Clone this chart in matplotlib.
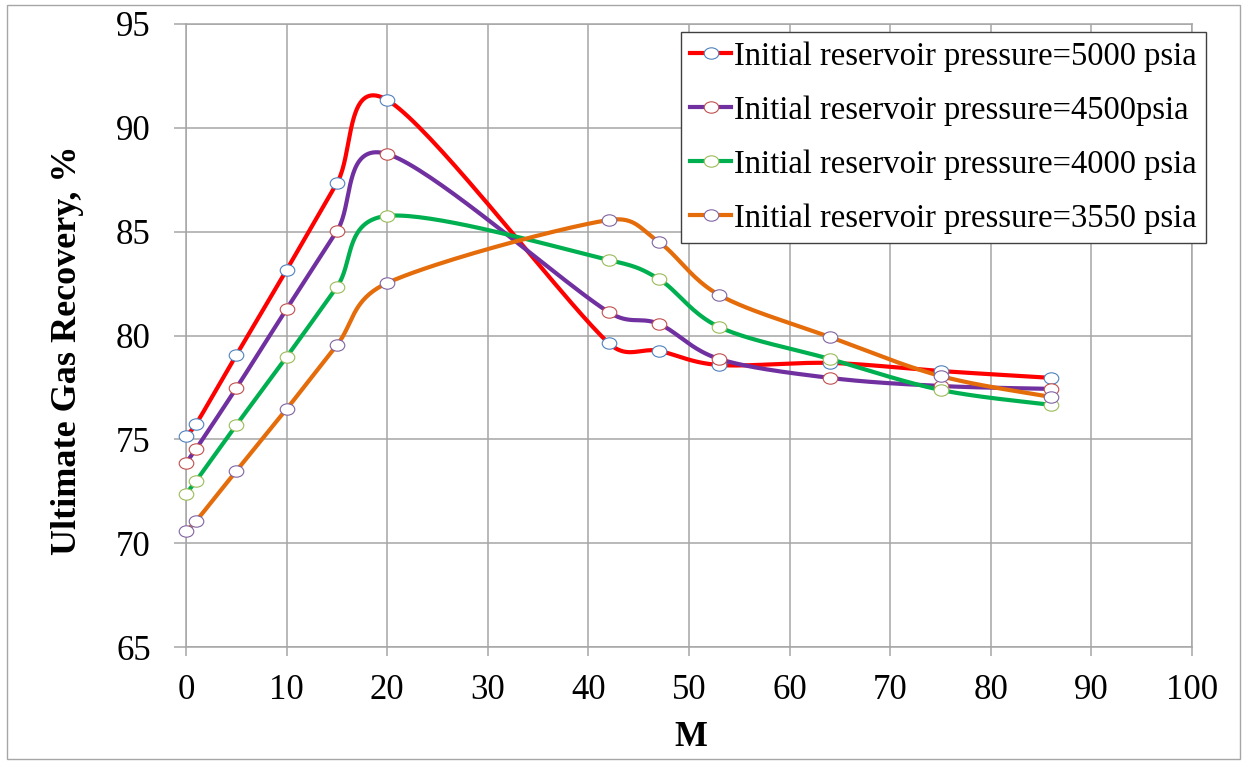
import numpy as np
import matplotlib
matplotlib.use("Agg")
import matplotlib.pyplot as plt
from matplotlib.path import Path
from matplotlib.patches import Rectangle

plt.rcParams['font.family'] = ['Liberation Serif', 'DejaVu Serif']

m_values = [0, 1, 5, 10, 15, 20, 42, 47, 53, 64, 75, 86]
recovery_5000 = [75.16, 75.74, 79.06, 83.16, 87.34, 91.34, 79.64, 79.26, 78.58, 78.68, 78.29, 77.96]
recovery_4500 = [73.86, 74.54, 77.47, 81.28, 85.03, 88.74, 81.13, 80.56, 78.87, 77.96, 77.57, 77.43]
recovery_4000 = [72.37, 73.00, 75.69, 78.97, 82.34, 85.76, 83.64, 82.72, 80.41, 78.87, 77.38, 76.66]
recovery_3550 = [70.59, 71.07, 73.48, 76.46, 79.54, 82.53, 85.56, 84.50, 81.95, 79.93, 78.05, 77.04]

labels = ["Initial reservoir pressure=5000 psia",
          "Initial reservoir pressure=4500psia",
          "Initial reservoir pressure=4000 psia",
          "Initial reservoir pressure=3550 psia"]
line_colors = ['#FF0000', '#7030A0', '#00B050', '#E46C0A']
edge_colors = ['#4F81BD', '#C0504D', '#9BBB59', '#8064A2']


def smooth(ax, x, y, n=40):
    # spreadsheet-style smoothed line: cubic Bezier per segment, built in
    # display space, with control arms capped at half the segment length
    pts = ax.transData.transform(np.column_stack([x, y]).astype(float))
    P = np.vstack([pts[0], pts, pts[-1]])
    t = np.linspace(0, 1, n)[:, None]
    out = []
    for i in range(1, len(P) - 2):
        p0, p1, p2, p3 = P[i - 1], P[i], P[i + 1], P[i + 2]
        d12 = np.hypot(*(p2 - p1))
        d02 = np.hypot(*(p2 - p0))
        d13 = np.hypot(*(p3 - p1))
        f = 1 / 6 if d02 / 6 < d12 / 2 else d12 / d02 / 2
        g = 1 / 6 if d13 / 6 < d12 / 2 else d12 / d13 / 2
        c1 = p1 + (p2 - p0) * f
        c2 = p2 - (p3 - p1) * g
        seg = (1 - t) ** 3 * p1 + 3 * (1 - t) ** 2 * t * c1 + 3 * (1 - t) * t ** 2 * c2 + t ** 3 * p2
        out.append(seg if i == 1 else seg[1:])
    return ax.transData.inverted().transform(np.vstack(out))


# slightly flattened circle marker
circ = Path.unit_circle()
ellipse = Path(circ.vertices * [1.0, 0.78], circ.codes)

fig = plt.figure(figsize=(12.47, 7.64), dpi=100)
ax = fig.add_axes([0.1492, 0.1531, 0.8067, 0.8155])
ax.set_xlim(0, 100)
ax.set_ylim(65, 95)

series = [recovery_5000, recovery_4500, recovery_4000, recovery_3550]
handles = []
for vals, lab, lc, ec in zip(series, labels, line_colors, edge_colors):
    curve = smooth(ax, m_values, vals)
    ax.plot(curve[:, 0], curve[:, 1], color=lc, lw=3, solid_capstyle='round', zorder=3)
    ax.plot(m_values, vals, linestyle='none', marker=ellipse, markersize=10.5,
            markerfacecolor='white', markeredgecolor=ec, markeredgewidth=0.8,
            clip_on=False, zorder=4)
    h, = ax.plot([], [], color=lc, lw=3, marker=ellipse, markersize=10.5,
                 markerfacecolor='white', markeredgecolor=ec, markeredgewidth=0.8)
    handles.append(h)

ax.set_xticks(np.arange(0, 101, 10))
ax.set_yticks(np.arange(65, 96, 5))
ax.grid(True, color='#A6A6A6', lw=1.1)
ax.set_axisbelow(True)
for s in ax.spines.values():
    s.set_color('#A6A6A6')
    s.set_linewidth(1.1)
ax.tick_params(axis='y', direction='out', length=8.5, width=1.1, color='#A6A6A6',
               labelsize=25, pad=17)
ax.tick_params(axis='x', direction='out', length=6.5, width=1.1, color='#A6A6A6',
               labelsize=25, pad=13)

ax.set_xlabel("M", fontsize=25, fontweight='bold')
ax.set_ylabel("Ultimate Gas Recovery, %", fontsize=26, fontweight='bold')
ax.xaxis.set_label_coords(0.502, -0.118)
ax.yaxis.set_label_coords(-0.101, 0.477)

leg = ax.legend(handles, labels, loc='upper right', bbox_to_anchor=(1.014, 0.987),
                fontsize=23.5, frameon=True, fancybox=False, shadow=False,
                handlelength=1.25, handletextpad=0.1, labelspacing=0.72,
                borderpad=0.28, borderaxespad=0)
leg.get_frame().set_edgecolor('#404040')
leg.get_frame().set_linewidth(1.0)
leg.get_frame().set_alpha(1)

# thin border around the whole figure
fig.patches.append(Rectangle((0.006, 0.006), 0.988, 0.987, transform=fig.transFigure,
                             fill=False, edgecolor='#A6A6A6', lw=1.0))

fig.savefig("out.png", dpi=100)
